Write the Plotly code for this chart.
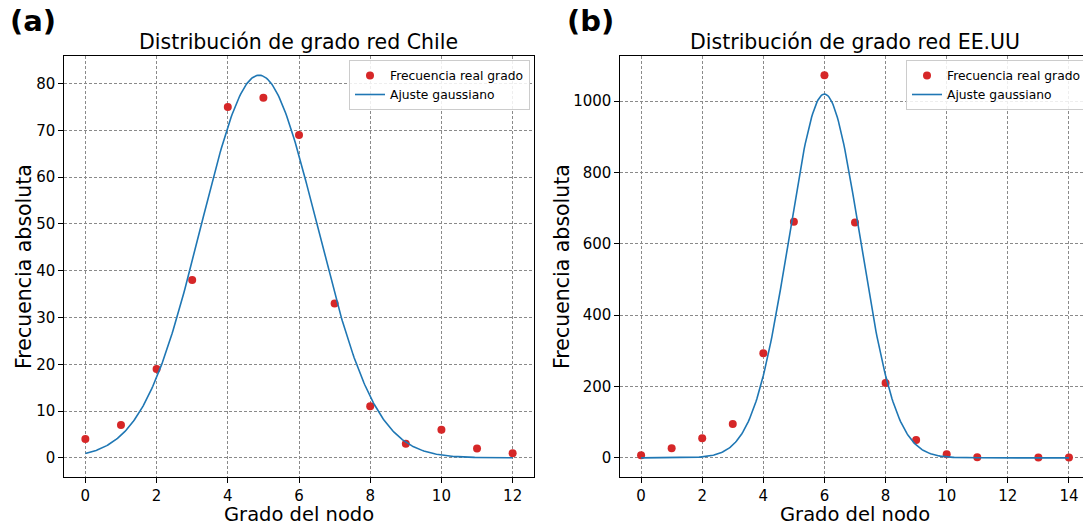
import numpy as np
import plotly.graph_objects as go

# ---- data -------------------------------------------------------------
# Chile degree distribution
chile_grado = [0, 1, 2, 3, 4, 5, 6, 7, 8, 9, 10, 11, 12]
chile_freq = [4, 7, 19, 38, 75, 77, 69, 33, 11, 3, 6, 2, 1]
# Gaussian fit parameters (amplitude, mean, sigma)
chile_fit = (81.8, 4.88, 1.63)

# USA degree distribution
usa_grado = [0, 1, 2, 3, 4, 5, 6, 7, 8, 9, 10, 11, 13, 14]
usa_freq = [7, 27, 55, 95, 293, 662, 1073, 660, 210, 50, 10, 2, 1, 1]
usa_fit = (1020.0, 6.0, 1.16)

W, H = 1083, 527
RED = "#d62728"
BLUE = "#1f77b4"
FONT = "DejaVu Sans"
LABEL_SIZE = 20.5


def gauss_curve(params, x_max):
    a, mu, s = params
    xs = np.linspace(0, x_max, 400)
    return xs, a * np.exp(-((xs - mu) ** 2) / (2 * s ** 2))


def px_x(p):
    return p / W


def px_y(p):
    return (H - p) / H


fig = go.Figure()

# panel (a)
xa, ya = gauss_curve(chile_fit, max(chile_grado))
fig.add_trace(go.Scatter(x=chile_grado, y=chile_freq, mode="markers",
                         marker=dict(color=RED, size=8),
                         name="Frecuencia real grado", xaxis="x", yaxis="y",
                         legend="legend"))
fig.add_trace(go.Scatter(x=xa, y=ya, mode="lines",
                         line=dict(color=BLUE, width=1.6),
                         name="Ajuste gaussiano", xaxis="x", yaxis="y",
                         legend="legend"))

# panel (b)
xb, yb = gauss_curve(usa_fit, max(usa_grado))
fig.add_trace(go.Scatter(x=usa_grado, y=usa_freq, mode="markers",
                         marker=dict(color=RED, size=8),
                         name="Frecuencia real grado", xaxis="x2", yaxis="y2",
                         legend="legend2"))
fig.add_trace(go.Scatter(x=xb, y=yb, mode="lines",
                         line=dict(color=BLUE, width=1.6),
                         name="Ajuste gaussiano", xaxis="x2", yaxis="y2",
                         legend="legend2"))

tick_font = dict(family=FONT, size=15, color="black")
axis_common = dict(
    showgrid=True, gridcolor="#8a8a8a", gridwidth=1, griddash="3px,2px",
    zeroline=False, showline=True, linecolor="black", linewidth=1.2,
    ticks="outside", ticklen=4.5, tickwidth=1, tickcolor="black",
    tickfont=tick_font,
)

y_dom = [px_y(477), px_y(56)]

legend_style = dict(
    font=dict(family=FONT, size=12.3, color="black"),
    bgcolor="rgba(255,255,255,0.85)", bordercolor="#cccccc", borderwidth=1,
    xanchor="right", yanchor="top", tracegroupgap=0,
)

fig.update_layout(
    width=W, height=H,
    margin=dict(l=0, r=0, t=0, b=0, autoexpand=False),
    paper_bgcolor="white", plot_bgcolor="white",
    font=dict(family=FONT, color="black"),
    xaxis=dict(domain=[px_x(64), px_x(534)], range=[-0.6, 12.6],
               tickmode="array", tickvals=[0, 2, 4, 6, 8, 10, 12],
               mirror=True, anchor="y", **axis_common),
    yaxis=dict(domain=y_dom, range=[-4.1, 85.9],
               tickmode="array", tickvals=[0, 10, 20, 30, 40, 50, 60, 70, 80],
               mirror=True, anchor="x", **axis_common),
    xaxis2=dict(domain=[px_x(620), 1.0], range=[-0.69, 14.46],
                tickmode="array", tickvals=[0, 2, 4, 6, 8, 10, 12, 14],
                mirror=True, anchor="y2", **axis_common),
    yaxis2=dict(domain=y_dom, range=[-53.7, 1126.7],
                tickmode="array", tickvals=[0, 200, 400, 600, 800, 1000],
                mirror=False, anchor="x2", **axis_common),
    legend=dict(x=px_x(530), y=px_y(60), **legend_style),
    legend2=dict(x=px_x(1087), y=px_y(60), **legend_style),
)

annotations = [
    # panel tags
    dict(text="<b>(a)</b>", x=px_x(8), y=px_y(21), xanchor="left",
         font=dict(size=29)),
    dict(text="<b>(b)</b>", x=px_x(565), y=px_y(21), xanchor="left",
         font=dict(size=29)),
    # subplot titles
    dict(text="Distribución de grado red Chile", x=px_x(299), y=px_y(42),
         font=dict(size=LABEL_SIZE)),
    dict(text="Distribución de grado red EE.UU", x=px_x(855), y=px_y(42),
         font=dict(size=LABEL_SIZE)),
    # axis titles (x titles sit on the bottom edge of the page)
    dict(text="Grado del nodo", x=px_x(299), y=0, yanchor="bottom",
         borderpad=0, font=dict(size=19.5)),
    dict(text="Grado del nodo", x=px_x(855), y=0, yanchor="bottom",
         borderpad=0, font=dict(size=19.5)),
    dict(text="Frecuencia absoluta", x=px_x(24), y=px_y(267), textangle=-90,
         font=dict(size=LABEL_SIZE)),
    dict(text="Frecuencia absoluta", x=px_x(562), y=px_y(267), textangle=-90,
         font=dict(size=LABEL_SIZE)),
]
for a in annotations:
    a.setdefault("xanchor", "center")
    a.setdefault("yanchor", "middle")
    a.update(xref="paper", yref="paper", showarrow=False)
    a["font"] = dict(family=FONT, color="black", **a["font"])
fig.update_layout(annotations=annotations)

fig.write_html("out.html")
